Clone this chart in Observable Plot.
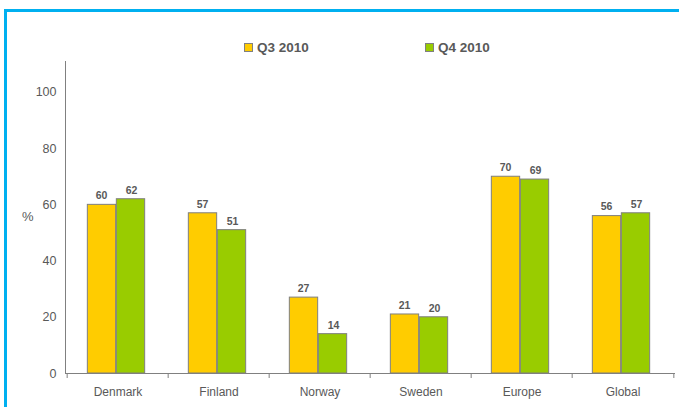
<!DOCTYPE html>
<html>
<head>
<meta charset="utf-8">
<script src="https://cdn.jsdelivr.net/npm/d3@7"></script>
<script src="https://cdn.jsdelivr.net/npm/@observablehq/plot@0.6"></script>
<style>
  html, body { margin: 0; padding: 0; background: #fff; }
  #wrap { position: relative; width: 679px; height: 407px; overflow: hidden; font-family: "Liberation Sans", Arial, sans-serif; }
  #bt { position: absolute; left: 4px; top: 9px; width: 675px; height: 3px; background: #00B0F0; }
  #bl { position: absolute; left: 4px; top: 9px; width: 3px; height: 398px; background: #00B0F0; }
  #chart { position: absolute; left: 0; top: 0; }
  .leg { position: absolute; top: 40px; font-weight: bold; font-size: 13.5px; color: #595959; display: flex; align-items: center; }
  .sw { width: 7px; height: 7px; border: 1px solid #808080; margin-right: 4px; }
  #ylab { position: absolute; left: 22px; top: 209px; font-size: 13px; color: #595959; }
</style>
</head>
<body>
<div id="wrap">
  <div id="chart"></div>
  <div id="bt"></div>
  <div id="bl"></div>
  <div id="legend"></div>
  <div id="ylab">%</div>
</div>
<script>
const categories = ["Denmark", "Finland", "Norway", "Sweden", "Europe", "Global"];
const series = ["Q3 2010", "Q4 2010"];
const q3 = [60, 57, 27, 21, 70, 56];
const q4 = [62, 51, 14, 20, 69, 57];
const yTicks = [0, 20, 40, 60, 80, 100];
const colors = ["#FFCC00", "#99CC00"];

const q3Data = categories.map((c, i) => ({cat: c, v: q3[i]}));
const q4Data = categories.map((c, i) => ({cat: c, v: q4[i]}));

const half = (679 - 4 - 65) / categories.length / 2; // half band width
const barW = 29;
const gap = half - barW;

const plot = Plot.plot({
  width: 679,
  height: 407,
  marginLeft: 65,
  marginRight: 4,
  marginTop: 61,
  marginBottom: 34,
  style: {fontFamily: "'Liberation Sans', Arial, sans-serif", color: "#595959", background: "transparent"},
  x: {domain: categories, padding: 0, label: null},
  y: {domain: [0, 111], label: null},
  marks: [
    Plot.barY(q3Data, {x: "cat", y: "v", fill: colors[0], stroke: "#7f7f7f", strokeWidth: 1, insetLeft: gap - 1.5, insetRight: half + 1.5}),
    Plot.barY(q4Data, {x: "cat", y: "v", fill: colors[1], stroke: "#7f7f7f", strokeWidth: 1, insetLeft: half - 1.5, insetRight: gap + 1.5}),
    Plot.text(q3Data, {x: "cat", y: "v", text: d => String(d.v), dx: -(half - gap) / 2 - 2, dy: -9, fontWeight: "bold", fontSize: 10.5, fill: "#595959"}),
    Plot.text(q4Data, {x: "cat", y: "v", text: d => String(d.v), dx: (half - gap) / 2 - 1, dy: -9, fontWeight: "bold", fontSize: 10.5, fill: "#595959"}),
    Plot.ruleY([0], {stroke: "#808080", strokeWidth: 1}),
    Plot.ruleX(categories, {x: d => d, y1: 0, y2: 0, dx: -half, insetBottom: -5, stroke: "#808080"}),
    Plot.ruleX([categories[categories.length - 1]], {x: d => d, y1: 0, y2: 0, dx: half, insetBottom: -5, stroke: "#808080"}),
    Plot.frame({anchor: "left", stroke: "#808080"}),
    Plot.axisY({ticks: yTicks, tickSize: 0, tickPadding: 9, fontSize: 12.5, fill: "#595959", label: null}),
    Plot.axisX({tickSize: 0, tickPadding: 14, fontSize: 12, fill: "#595959", label: null})
  ]
});
document.getElementById("chart").appendChild(plot);

const legend = document.getElementById("legend");
const legX = [244, 425];
series.forEach((s, i) => {
  const d = document.createElement("div");
  d.className = "leg";
  d.style.left = legX[i] + "px";
  d.innerHTML = `<span class="sw" style="background:${colors[i]}"></span>${s}`;
  legend.appendChild(d);
});
</script>
</body>
</html>
